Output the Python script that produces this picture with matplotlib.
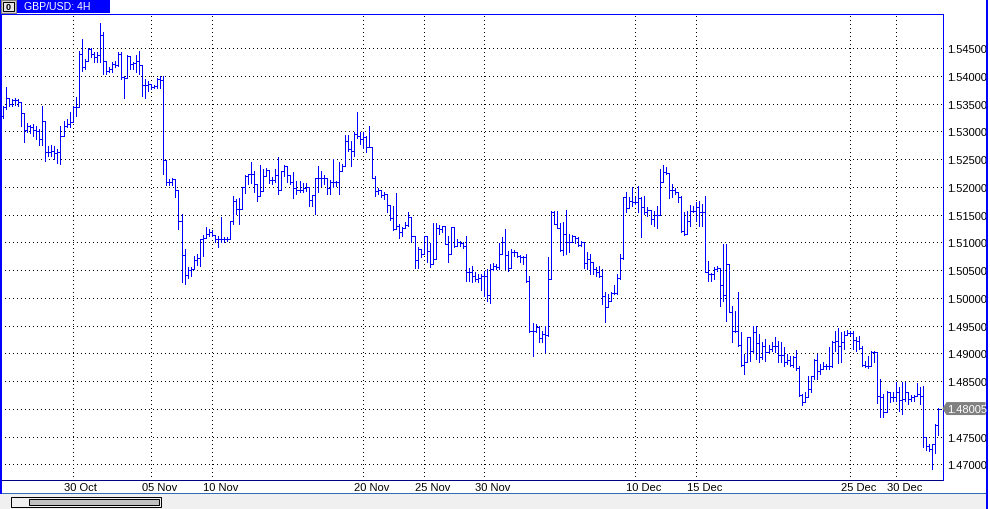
import matplotlib
matplotlib.use("Agg")
import matplotlib.pyplot as plt
import matplotlib.transforms as mtransforms
from matplotlib.collections import LineCollection
from matplotlib.patches import Rectangle, Polygon

plt.rcParams["font.family"] = ["Liberation Sans", "DejaVu Sans"]

# Canvas (pixels) and one pixel in points at 100 dpi
W, H = 990, 510
PX = 0.72

SYMBOL = "GBP/USD: 4H"
FIRST_OPEN = 1.5328

# 4H bars, oldest first
HIGH = [
    1.5346, 1.5380, 1.5359, 1.5359, 1.5360, 1.5359, 1.5353, 1.5319, 1.5315, 1.5312,
    1.5314, 1.5310, 1.5305, 1.5346, 1.5319, 1.5274, 1.5276, 1.5274, 1.5269, 1.5310,
    1.5319, 1.5323, 1.5335, 1.5346, 1.5362, 1.5445, 1.5467, 1.5431, 1.5451, 1.5451,
    1.5443, 1.5443, 1.5496, 1.5479, 1.5427, 1.5416, 1.5425, 1.5427, 1.5443, 1.5443,
    1.5400, 1.5438, 1.5436, 1.5425, 1.5438, 1.5445, 1.5395, 1.5395, 1.5391, 1.5386,
    1.5384, 1.5396, 1.5400, 1.5400, 1.5218, 1.5214, 1.5216, 1.5196, 1.5151, 1.5151,
    1.5088, 1.5056, 1.5056, 1.5076, 1.5079, 1.5106, 1.5114, 1.5128, 1.5124, 1.5123,
    1.5114, 1.5112, 1.5146, 1.5110, 1.5110, 1.5139, 1.5184, 1.5178, 1.5180, 1.5200,
    1.5222, 1.5223, 1.5245, 1.5229, 1.5205, 1.5240, 1.5232, 1.5234, 1.5231, 1.5218,
    1.5232, 1.5254, 1.5229, 1.5240, 1.5227, 1.5213, 1.5227, 1.5211, 1.5211, 1.5207,
    1.5207, 1.5191, 1.5186, 1.5216, 1.5238, 1.5229, 1.5222, 1.5213, 1.5213, 1.5251,
    1.5211, 1.5245, 1.5242, 1.5294, 1.5294, 1.5283, 1.5299, 1.5335, 1.5299, 1.5299,
    1.5292, 1.5310, 1.5272, 1.5220, 1.5198, 1.5195, 1.5191, 1.5180, 1.5166, 1.5166,
    1.5189, 1.5133, 1.5128, 1.5137, 1.5155, 1.5146, 1.5112, 1.5092, 1.5086, 1.5112,
    1.5108, 1.5099, 1.5135, 1.5135, 1.5132, 1.5130, 1.5130, 1.5112, 1.5128, 1.5128,
    1.5106, 1.5103, 1.5101, 1.5112, 1.5054, 1.5058, 1.5047, 1.5043, 1.5043, 1.5049,
    1.5052, 1.5061, 1.5063, 1.5061, 1.5099, 1.5110, 1.5124, 1.5085, 1.5088, 1.5086,
    1.5079, 1.5077, 1.5076, 1.5079, 1.5040, 1.4955, 1.4953, 1.4950, 1.4941, 1.4950,
    1.5074, 1.5157, 1.5157, 1.5157, 1.5135, 1.5137, 1.5159, 1.5115, 1.5114, 1.5112,
    1.5110, 1.5103, 1.5101, 1.5083, 1.5079, 1.5065, 1.5056, 1.5058, 1.5052, 1.5011,
    1.5007, 1.5011, 1.5023, 1.5043, 1.5079, 1.5182, 1.5191, 1.5182, 1.5200, 1.5182,
    1.5202, 1.5182, 1.5184, 1.5164, 1.5157, 1.5157, 1.5166, 1.5232, 1.5240, 1.5236,
    1.5198, 1.5205, 1.5198, 1.5184, 1.5184, 1.5155, 1.5157, 1.5168, 1.5166, 1.5173,
    1.5175, 1.5169, 1.5184, 1.5067, 1.5045, 1.5056, 1.5058, 1.5052, 1.5097, 1.5097,
    1.5061, 1.4986, 1.4977, 1.5011, 1.4939, 1.4899, 1.4930, 1.4930, 1.4950, 1.4950,
    1.4935, 1.4921, 1.4926, 1.4915, 1.4921, 1.4930, 1.4923, 1.4921, 1.4912, 1.4899,
    1.4896, 1.4896, 1.4906, 1.4878, 1.4827, 1.4831, 1.4860, 1.4860, 1.4890, 1.4899,
    1.4881, 1.4885, 1.4881, 1.4912, 1.4923, 1.4941, 1.4946, 1.4939, 1.4941, 1.4942,
    1.4941, 1.4941, 1.4930, 1.4932, 1.4914, 1.4887, 1.4896, 1.4905, 1.4905, 1.4894,
    1.4854, 1.4827, 1.4833, 1.4831, 1.4831, 1.4849, 1.4840, 1.4849, 1.4849, 1.4831,
    1.4825, 1.4825, 1.4847, 1.4840, 1.4842, 1.4746, 1.4737, 1.4737, 1.4773, 1.4802,
]
LOW = [
    1.5324, 1.5341, 1.5346, 1.5346, 1.5348, 1.5346, 1.5310, 1.5281, 1.5299, 1.5297,
    1.5292, 1.5287, 1.5276, 1.5276, 1.5247, 1.5256, 1.5256, 1.5251, 1.5243, 1.5242,
    1.5292, 1.5308, 1.5308, 1.5328, 1.5328, 1.5346, 1.5409, 1.5413, 1.5427, 1.5434,
    1.5425, 1.5425, 1.5425, 1.5404, 1.5404, 1.5407, 1.5407, 1.5416, 1.5418, 1.5395,
    1.5360, 1.5398, 1.5413, 1.5413, 1.5407, 1.5404, 1.5364, 1.5360, 1.5373, 1.5377,
    1.5378, 1.5378, 1.5378, 1.5223, 1.5204, 1.5204, 1.5204, 1.5182, 1.5124, 1.5029,
    1.5025, 1.5036, 1.5040, 1.5059, 1.5059, 1.5058, 1.5076, 1.5112, 1.5112, 1.5112,
    1.5101, 1.5092, 1.5101, 1.5101, 1.5103, 1.5106, 1.5133, 1.5151, 1.5133, 1.5160,
    1.5189, 1.5205, 1.5207, 1.5191, 1.5175, 1.5191, 1.5218, 1.5220, 1.5207, 1.5205,
    1.5209, 1.5187, 1.5195, 1.5220, 1.5209, 1.5205, 1.5180, 1.5187, 1.5191, 1.5191,
    1.5193, 1.5166, 1.5166, 1.5151, 1.5191, 1.5202, 1.5205, 1.5187, 1.5187, 1.5200,
    1.5202, 1.5187, 1.5229, 1.5242, 1.5265, 1.5238, 1.5256, 1.5288, 1.5278, 1.5270,
    1.5263, 1.5272, 1.5216, 1.5184, 1.5187, 1.5182, 1.5178, 1.5155, 1.5141, 1.5123,
    1.5124, 1.5108, 1.5112, 1.5126, 1.5130, 1.5101, 1.5054, 1.5054, 1.5074, 1.5079,
    1.5065, 1.5056, 1.5067, 1.5097, 1.5115, 1.5119, 1.5097, 1.5065, 1.5092, 1.5092,
    1.5094, 1.5094, 1.5090, 1.5031, 1.5031, 1.5029, 1.5031, 1.5029, 1.5014, 1.5004,
    1.4995, 1.4991, 1.5050, 1.5052, 1.5052, 1.5079, 1.5052, 1.5049, 1.5067, 1.5076,
    1.5074, 1.5065, 1.5061, 1.5029, 1.4939, 1.4896, 1.4939, 1.4921, 1.4921, 1.4903,
    1.4932, 1.5034, 1.5133, 1.5126, 1.5085, 1.5077, 1.5079, 1.5083, 1.5101, 1.5099,
    1.5094, 1.5094, 1.5054, 1.5052, 1.5043, 1.5043, 1.5040, 1.5038, 1.4989, 1.4957,
    1.4993, 1.4995, 1.5007, 1.5007, 1.5034, 1.5070, 1.5155, 1.5166, 1.5166, 1.5169,
    1.5155, 1.5110, 1.5151, 1.5148, 1.5133, 1.5130, 1.5126, 1.5150, 1.5209, 1.5223,
    1.5180, 1.5182, 1.5187, 1.5173, 1.5119, 1.5114, 1.5115, 1.5130, 1.5155, 1.5139,
    1.5130, 1.5130, 1.5047, 1.5031, 1.5031, 1.5034, 1.5049, 1.4986, 1.4995, 1.4958,
    1.4975, 1.4921, 1.4939, 1.4914, 1.4878, 1.4863, 1.4885, 1.4887, 1.4903, 1.4890,
    1.4885, 1.4890, 1.4887, 1.4903, 1.4905, 1.4903, 1.4885, 1.4885, 1.4878, 1.4881,
    1.4878, 1.4876, 1.4870, 1.4824, 1.4807, 1.4813, 1.4831, 1.4831, 1.4854, 1.4854,
    1.4863, 1.4872, 1.4872, 1.4872, 1.4876, 1.4905, 1.4883, 1.4885, 1.4908, 1.4933,
    1.4933, 1.4908, 1.4905, 1.4908, 1.4878, 1.4876, 1.4874, 1.4885, 1.4885, 1.4811,
    1.4785, 1.4785, 1.4794, 1.4813, 1.4815, 1.4815, 1.4796, 1.4791, 1.4815, 1.4809,
    1.4815, 1.4815, 1.4824, 1.4809, 1.4731, 1.4726, 1.4724, 1.4692, 1.4721, 1.4753,
]
CLOSE = [
    1.5344, 1.5360, 1.5350, 1.5357, 1.5357, 1.5353, 1.5333, 1.5303, 1.5310, 1.5308,
    1.5303, 1.5301, 1.5287, 1.5319, 1.5263, 1.5263, 1.5265, 1.5261, 1.5263, 1.5292,
    1.5310, 1.5314, 1.5317, 1.5344, 1.5344, 1.5440, 1.5416, 1.5427, 1.5449, 1.5440,
    1.5434, 1.5438, 1.5474, 1.5427, 1.5409, 1.5413, 1.5422, 1.5420, 1.5440, 1.5398,
    1.5396, 1.5436, 1.5422, 1.5424, 1.5427, 1.5420, 1.5384, 1.5384, 1.5386, 1.5380,
    1.5382, 1.5395, 1.5393, 1.5249, 1.5209, 1.5209, 1.5214, 1.5195, 1.5139, 1.5077,
    1.5041, 1.5050, 1.5052, 1.5068, 1.5072, 1.5106, 1.5108, 1.5115, 1.5119, 1.5114,
    1.5106, 1.5106, 1.5106, 1.5106, 1.5106, 1.5139, 1.5175, 1.5160, 1.5160, 1.5200,
    1.5220, 1.5223, 1.5223, 1.5205, 1.5184, 1.5193, 1.5220, 1.5231, 1.5213, 1.5213,
    1.5222, 1.5195, 1.5229, 1.5238, 1.5222, 1.5209, 1.5198, 1.5195, 1.5195, 1.5198,
    1.5200, 1.5177, 1.5186, 1.5216, 1.5216, 1.5216, 1.5216, 1.5198, 1.5209, 1.5209,
    1.5209, 1.5229, 1.5238, 1.5283, 1.5269, 1.5265, 1.5296, 1.5292, 1.5287, 1.5290,
    1.5272, 1.5272, 1.5216, 1.5193, 1.5195, 1.5186, 1.5187, 1.5168, 1.5144, 1.5124,
    1.5130, 1.5119, 1.5126, 1.5132, 1.5146, 1.5112, 1.5068, 1.5088, 1.5079, 1.5112,
    1.5085, 1.5061, 1.5070, 1.5126, 1.5124, 1.5130, 1.5097, 1.5079, 1.5128, 1.5094,
    1.5101, 1.5099, 1.5094, 1.5047, 1.5047, 1.5040, 1.5034, 1.5036, 1.5040, 1.5040,
    1.5005, 1.5052, 1.5058, 1.5056, 1.5079, 1.5101, 1.5077, 1.5054, 1.5083, 1.5083,
    1.5076, 1.5074, 1.5074, 1.5031, 1.4941, 1.4941, 1.4948, 1.4928, 1.4935, 1.4933,
    1.5034, 1.5155, 1.5133, 1.5126, 1.5086, 1.5115, 1.5101, 1.5101, 1.5112, 1.5108,
    1.5096, 1.5101, 1.5063, 1.5070, 1.5065, 1.5052, 1.5047, 1.5040, 1.5004, 1.4984,
    1.4995, 1.5009, 1.5009, 1.5036, 1.5072, 1.5182, 1.5162, 1.5175, 1.5173, 1.5173,
    1.5180, 1.5164, 1.5155, 1.5159, 1.5142, 1.5150, 1.5150, 1.5209, 1.5227, 1.5225,
    1.5195, 1.5195, 1.5191, 1.5182, 1.5121, 1.5115, 1.5139, 1.5157, 1.5157, 1.5164,
    1.5155, 1.5155, 1.5047, 1.5043, 1.5043, 1.5052, 1.5054, 1.5023, 1.5005, 1.5061,
    1.4975, 1.4941, 1.4941, 1.4915, 1.4879, 1.4885, 1.4930, 1.4905, 1.4939, 1.4919,
    1.4894, 1.4914, 1.4903, 1.4908, 1.4914, 1.4914, 1.4897, 1.4897, 1.4885, 1.4888,
    1.4879, 1.4894, 1.4874, 1.4825, 1.4813, 1.4822, 1.4836, 1.4860, 1.4888, 1.4869,
    1.4872, 1.4878, 1.4878, 1.4878, 1.4921, 1.4923, 1.4914, 1.4921, 1.4933, 1.4937,
    1.4937, 1.4924, 1.4923, 1.4910, 1.4879, 1.4878, 1.4878, 1.4903, 1.4903, 1.4824,
    1.4822, 1.4794, 1.4831, 1.4822, 1.4822, 1.4831, 1.4816, 1.4818, 1.4831, 1.4818,
    1.4822, 1.4824, 1.4827, 1.4824, 1.4749, 1.4733, 1.4728, 1.4737, 1.4771, 1.48005,
]

DATE_LABELS = ["30 Oct", "05 Nov", "10 Nov", "20 Nov", "25 Nov",
               "30 Nov", "10 Dec", "15 Dec", "25 Dec", "30 Dec"]
DATE_BARS = [23, 49, 69, 119, 139, 159, 209, 229, 280, 295]
PRICE_TICKS = [1.470, 1.475, 1.480, 1.485, 1.490, 1.495, 1.500, 1.505,
               1.510, 1.515, 1.520, 1.525, 1.530, 1.535, 1.540, 1.545]

BAR_BLUE = "#0000ff"
FRAME_BLUE = "#0000ff"
TITLE_BLUE = "#0000ff"
DOTS = (0, (1, 3))
FS = 8


def px_rect(x0, y0, x1, y1):
    return [x0 / W, 1 - y1 / H, (x1 - x0) / W, (y1 - y0) / H]


fig = plt.figure(figsize=(W / 100, H / 100), dpi=100)
fig.patch.set_facecolor("white")

# price pane
ax = fig.add_axes(px_rect(1, 14.5, 942.5, 481))
n = len(CLOSE)
ax.set_xlim(-0.66, n + 0.5)
ax.set_ylim(1.46717, 1.55127)

# each 4H bar opens where the previous one closed
opens = [FIRST_OPEN] + CLOSE[:-1]
segs = []
for i, (o, h, l, c) in enumerate(zip(opens, HIGH, LOW, CLOSE)):
    segs.append([(i, min(l, o)), (i, max(h, o))])
    segs.append([(i - 0.7, o), (i, o)])
    segs.append([(i, c), (i + 0.7, c)])
ax.add_collection(LineCollection(segs, colors=BAR_BLUE, linewidths=PX,
                                 antialiased=False, zorder=3))

for p in PRICE_TICKS:
    ax.axhline(p, color="black", lw=PX, ls=DOTS, antialiased=False, zorder=1)
for b in DATE_BARS:
    ax.axvline(b, color="black", lw=PX, ls=DOTS, antialiased=False, zorder=1)

ax.yaxis.tick_right()
ax.set_yticks(PRICE_TICKS)
ax.set_yticklabels([f"{p:.5f}" for p in PRICE_TICKS], fontsize=FS)
ax.tick_params(axis="y", length=0, pad=3.0)
ax.set_xticks([])
for side in ("top", "right", "left"):
    ax.spines[side].set_color(FRAME_BLUE)
ax.spines["bottom"].set_color("#000080")
for s in ax.spines.values():
    s.set_linewidth(PX)

lab_tr = mtransforms.offset_copy(ax.get_xaxis_transform(), fig=fig,
                                 x=-9, y=-2, units="dots")
for b, lab in zip(DATE_BARS, DATE_LABELS):
    ax.text(b, 0, lab, transform=lab_tr, ha="left", va="top", fontsize=FS)

# window chrome drawn in pixel coordinates
ov = fig.add_axes([0, 0, 1, 1])
ov.set_xlim(0, W)
ov.set_ylim(H, 0)
ov.axis("off")
ov.patch.set_visible(False)

ov.add_patch(Rectangle((0, 495), 985.5, 15, fc="#f0f0f0", ec="none"))
ov.add_patch(Rectangle((0, 494), 985.5, 1.2, fc="#2f6db5", ec="none"))
ov.add_patch(Rectangle((10.5, 497.5), 150, 10, fc="#f0f0f0", ec="black", lw=PX))
ov.add_patch(Rectangle((28.5, 499.5), 130, 6, fc="#c0c0c0", ec="black", lw=PX))

ov.add_patch(Rectangle((0, 0), 986, 1, fc=FRAME_BLUE, ec="none"))
ov.add_patch(Rectangle((0, 0), 1.5, 495, fc=FRAME_BLUE, ec="none"))

# title tab
ov.add_patch(Rectangle((1, 1), 15, 12.5, fc="#d4d0c8", ec="#808080", lw=PX))
ov.add_patch(Rectangle((3, 3), 11, 8.5, fc="#e8e8e8", ec="black", lw=PX))
ov.text(8.5, 7.5, "0", fontsize=6.5, fontweight="bold", ha="center", va="center")
ov.add_patch(Rectangle((17, 0), 93, 14, fc=TITLE_BLUE, ec="none"))
ov.text(24, 7.5, SYMBOL, color="white", fontsize=7.6, ha="left", va="center")

# last price tag
y_tag = H - ax.transData.transform((0, CLOSE[-1]))[1]
ov.add_patch(Polygon([(942.5, y_tag), (946.5, y_tag - 6.5), (985.5, y_tag - 6.5),
                      (985.5, y_tag + 6.5), (946.5, y_tag + 6.5)],
                     closed=True, fc="#808080", ec="none"))
ov.text(947, y_tag, f"{CLOSE[-1]:.5f}", color="white", fontsize=FS,
        ha="left", va="center")

ov.add_patch(Rectangle((985.5, 0), 2, H, fc=FRAME_BLUE, ec="none"))

fig.savefig("out.png", dpi=100)
